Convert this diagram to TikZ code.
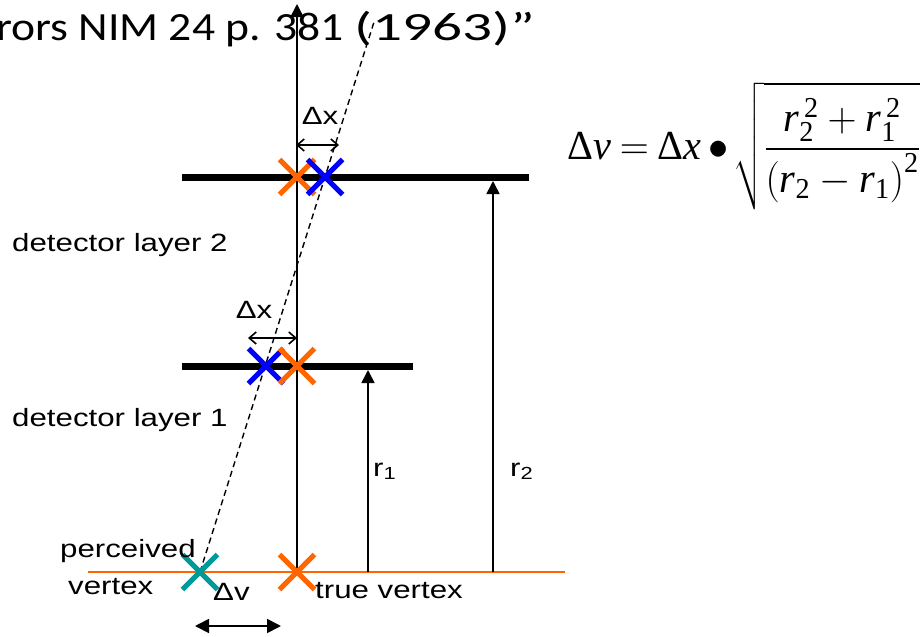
\RequirePackage{fix-cm}
\documentclass[tikz,border=0pt]{standalone}
\usepackage{graphicx}
\usepackage{amsmath}
\usepackage{fontspec}
\setmainfont{Liberation Sans}
\newfontfamily\titlefont{Carlito}
\newfontfamily\tms{Liberation Serif}
\usetikzlibrary{arrows.meta,shapes.misc}
\newcommand{\hs}[1]{\scalebox{1.25}[1]{#1}}
\newcommand{\ti}[1]{\text{\tms\itshape #1}}
\newcommand{\tu}[1]{\text{\tms #1}}
\definecolor{myorange}{RGB}{255,102,0}
\definecolor{myblue}{RGB}{0,0,255}
\definecolor{myteal}{RGB}{0,153,153}
\tikzset{
  mark x/.style={cross out, draw=#1, line width=5pt, minimum size=30pt, inner sep=0pt},
  layer/.style={line width=7pt},
  lbl/.style={inner sep=0pt, font=\fontsize{25}{30}\selectfont},
  dx arrow/.style={line width=1.6pt, {Straight Barb[length=7pt,width=12pt]}-{Straight Barb[length=7pt,width=12pt]}},
  r arrow/.style={line width=1.6pt, -{Triangle[length=13pt,width=13pt]}},
}
\begin{document}
\begin{tikzpicture}[x=1pt,y=-1pt]
\useasboundingbox (0,0) rectangle (921,637);
% title
\node[anchor=base west, inner sep=0pt, font=\titlefont\fontsize{40}{44}\selectfont] (title) at (-4,40.5)
  {\scalebox{1.14}[1]{rors NIM 24 p. 381\ }\scalebox{1.48}[1]{(1963)”}};
% base (vertex) line
\coordinate (base L) at (88,572);
\coordinate (base R) at (565,572);
\draw[myorange, line width=1.8pt] (base L) -- (base R);
% detector layers
\coordinate (L2a) at (182,177); \coordinate (L2b) at (529,177);
\coordinate (L1a) at (182,366); \coordinate (L1b) at (413,366);
\draw[layer] (L2a) -- (L2b);
\draw[layer] (L1a) -- (L1b);
% true track axis
\coordinate (tv) at (297,572);
\coordinate (axis top) at (297,4);
\draw[r arrow] (tv) -- (axis top);
% dashed perceived track
\coordinate (pv) at (200,572);
\coordinate (dash top) at (374,22);
\draw[line width=1.4pt, dash pattern=on 6pt off 4pt] (pv) -- (dash top);
% r arrows
\coordinate (r1 foot) at (368,572); \coordinate (r1 tip) at (368,370);
\coordinate (r2 foot) at (493,572); \coordinate (r2 tip) at (493,181);
\draw[r arrow] (r1 foot) -- (r1 tip);
\draw[r arrow] (r2 foot) -- (r2 tip);
% crosses
\node[mark x=myorange] (o2) at (297,177) {};
\node[mark x=myblue] (b2) at (325,177) {};
\node[mark x=myblue] (b1) at (266,366) {};
\node[mark x=myorange] (o1) at (297,366) {};
\node[mark x=myteal] (pvx) at (200,572) {};
\node[mark x=myorange] (tvx) at (297,572) {};
% delta x arrows
\coordinate (dx2a) at (296,145); \coordinate (dx2b) at (339,145);
\draw[dx arrow] (dx2a) -- (dx2b);
\coordinate (dx1a) at (248,338); \coordinate (dx1b) at (297,338);
\draw[dx arrow] (dx1a) -- (dx1b);
% delta v arrow
\coordinate (dva) at (195,626); \coordinate (dvb) at (281,626);
\draw[line width=1.8pt, {Triangle[length=14pt,width=14pt]}-{Triangle[length=14pt,width=14pt]}] (dva) -- (dvb);
% labels
\node[lbl, anchor=base] (dx2) at (320,124) {\hs{Δx}};
\node[lbl, anchor=base] (dx1) at (254,318) {\hs{Δx}};
\node[lbl, anchor=base west] (det2) at (12,251) {\hs{detector layer 2}};
\node[lbl, anchor=base west] (det1) at (12,426) {\hs{detector layer 1}};
\node[lbl, anchor=base west] (perc) at (60,557) {\hs{perceived}};
\node[lbl, anchor=base west] (vert) at (68,594) {\hs{vertex}};
\node[lbl, anchor=base west] (dv) at (213,600) {\hs{Δv}};
\node[lbl, anchor=base west] (true) at (315,598) {\hs{true vertex}};
\node[lbl, anchor=base west] (r1) at (373,476) {\hs{r\textsubscript{1}}};
\node[lbl, anchor=base west] (r2) at (510,476) {\hs{r\textsubscript{2}}};
% formula
\node[anchor=north west, inner sep=0pt, font=\fontsize{34}{40}\selectfont] (formula) at (567,82)
  {\resizebox*{353pt}{128pt}{$\displaystyle \tu{Δ}\ti{v}\mskip-1mu=\mskip-1mu\tu{Δ}\ti{x}\mskip-1mu\bullet\mskip-2mu\sqrt{\frac{\ti{r}_{\tu{2}}^{\,\tu{2}}+\ti{r}_{\tu{1}}^{\,\tu{2}}}{\left(\ti{r}_{\tu{2}}-\ti{r}_{\tu{1}}\right)^{\tu{2}}}}$}};
\end{tikzpicture}
\end{document}
